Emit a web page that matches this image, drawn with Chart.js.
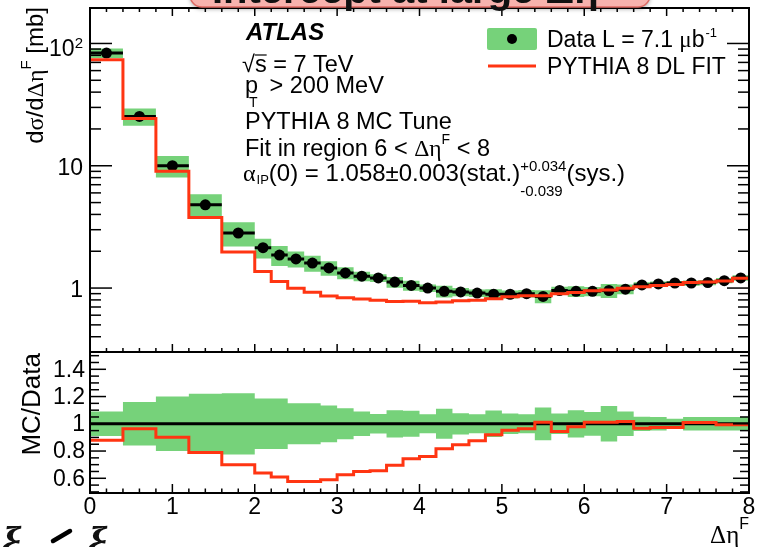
<!DOCTYPE html>
<html>
<head>
<meta charset="utf-8">
<script src="https://cdn.jsdelivr.net/npm/chart.js@4.4.0/dist/chart.umd.min.js"></script>
<style>
body { margin: 0; background: #fff; }
#wrap { position: relative; width: 762px; height: 547px; overflow: hidden; }
canvas { position: absolute; left: 0; top: 0; }
</style>
</head>
<body>
<div id="wrap">
  <canvas id="spectrumChart" width="762" height="547"></canvas>
  <canvas id="ratioChart" width="762" height="547"></canvas>
</div>
<script>
// bin edges in delta eta F (0.4 wide up to 2, then 0.2)
const binEdges = [0, 0.4, 0.8, 1.2, 1.6, 2.0, 2.2, 2.4, 2.6, 2.8, 3.0, 3.2, 3.4, 3.6, 3.8, 4.0,
  4.2, 4.4, 4.6, 4.8, 5.0, 5.2, 5.4, 5.6, 5.8, 6.0, 6.2, 6.4, 6.6, 6.8, 7.0, 7.2, 7.4, 7.6, 7.8, 8.0];

// data, dsigma/d deta [mb]
const dataValues = [83.5, 25.3, 10.0, 4.79, 2.82, 2.14, 1.86, 1.73, 1.60, 1.46, 1.33, 1.25, 1.21,
  1.12, 1.05, 1.00, 0.94, 0.93, 0.91, 0.89, 0.89, 0.90, 0.855, 0.955, 0.94, 0.94, 0.955, 0.98,
  1.06, 1.08, 1.10, 1.10, 1.11, 1.15, 1.21];

// total relative uncertainty (green band)
const relErr = [0.09, 0.16, 0.20, 0.22, 0.225, 0.185, 0.185, 0.15, 0.15, 0.135, 0.114, 0.09, 0.072,
  0.10, 0.095, 0.07, 0.11, 0.078, 0.07, 0.097, 0.075, 0.07, 0.12, 0.075, 0.10, 0.087, 0.13, 0.09,
  0.052, 0.05, 0.037, 0.05, 0.05, 0.05, 0.05];

// PYTHIA 8 DL fit
const mcValues = [73.5, 24.4, 9.02, 3.78, 1.97, 1.365, 1.133, 0.998, 0.923, 0.861, 0.833, 0.813, 0.794,
  0.778, 0.781, 0.76, 0.768, 0.787, 0.796, 0.819, 0.848, 0.867, 0.865, 0.90, 0.919, 0.951, 0.966,
  0.997, 1.026, 1.051, 1.07, 1.111, 1.121, 1.142, 1.20];

// MC / Data
const ratioValues = [0.88, 0.963, 0.902, 0.79, 0.70, 0.638, 0.609, 0.577, 0.577, 0.59, 0.626, 0.65,
  0.656, 0.695, 0.744, 0.76, 0.817, 0.846, 0.875, 0.92, 0.953, 0.963, 1.012, 0.944, 0.978, 1.012,
  1.012, 1.017, 0.968, 0.973, 0.973, 1.01, 1.01, 0.993, 0.993];

const xTickLabels = [0, 1, 2, 3, 4, 5, 6, 7, 8];
const logTickLabels = [1, 10, 100];
const ratioTickLabels = [0.6, 0.8, 1, 1.2, 1.4];

const GREEN = 'rgb(118,210,122)';
const RED = '#ff3512';
const SANS = '"Liberation Sans", Arial, sans-serif';
const SERIF = '"Liberation Serif", "DejaVu Serif", serif';
const TXT = 23.5;

function stepPoints(vals) {
  const pts = vals.map((v, i) => ({ x: binEdges[i], y: v }));
  pts.push({ x: binEdges[vals.length], y: vals[vals.length - 1] });
  return pts;
}

function barPoints(vals) {
  const pts = [];
  vals.forEach((v, i) => {
    pts.push({ x: binEdges[i], y: v }, { x: binEdges[i + 1], y: v }, { x: binEdges[i + 1], y: null });
  });
  return pts;
}

function line(ctx, x1, y1, x2, y2) {
  ctx.beginPath(); ctx.moveTo(x1, y1); ctx.lineTo(x2, y2); ctx.stroke();
}

// draw a list of [text, size, family, dy] pieces
function rich(ctx, parts, x, y, align) {
  let w = 0;
  parts.forEach(p => { ctx.font = p[1] + 'px ' + p[2]; w += ctx.measureText(p[0]).width; });
  let cx = align === 'right' ? x - w : x;
  ctx.textAlign = 'left';
  parts.forEach(p => {
    ctx.font = p[1] + 'px ' + p[2];
    ctx.fillText(p[0], cx, y + (p[3] || 0));
    cx += ctx.measureText(p[0]).width;
  });
  return cx;
}

function xTicks(ctx, x, a, top, bottom, major, minor) {
  for (let k = 0; k <= 40; k++) {
    const px = x.getPixelForValue(k * 0.2);
    const len = k % 5 === 0 ? major : minor;
    if (top) line(ctx, px, a.top, px, a.top + len);
    if (bottom) line(ctx, px, a.bottom, px, a.bottom - len);
  }
}

const spectrumDecor = {
  id: 'spectrumDecor',
  afterDraw(chart) {
    const { ctx, chartArea: a, scales: { x, y } } = chart;
    ctx.save();
    ctx.strokeStyle = '#000';
    ctx.fillStyle = '#000';
    ctx.lineWidth = 1.5;
    xTicks(ctx, x, a, true, true, 8, 4);
    for (let dec = 0.1; dec < 1000; dec *= 10) {
      for (let m = 1; m <= 9; m++) {
        const v = dec * m;
        const py = y.getPixelForValue(v);
        if (py < a.top || py > a.bottom) continue;
        const len = m === 1 ? 22 : 11;
        line(ctx, a.left, py, a.left + len, py);
        line(ctx, a.right, py, a.right - len, py);
      }
    }
    ctx.lineWidth = 2;
    ctx.strokeRect(a.left, a.top, a.right - a.left, a.bottom - a.top);

    // y tick labels
    ctx.textBaseline = 'alphabetic';
    logTickLabels.forEach(v => {
      const py = y.getPixelForValue(v);
      if (v === 100) {
        rich(ctx, [['10', 23, SANS, 0], ['2', 15, SANS, -8]], 83, py + 13, 'right');
      } else {
        rich(ctx, [[String(v), 23, SANS, 0]], 83, py + 9, 'right');
      }
    });

    // y title
    ctx.save();
    ctx.translate(43, 7);
    ctx.rotate(-Math.PI / 2);
    rich(ctx, [['d', 24, SANS], ['σ', 24, SERIF], ['/d', 24, SANS], ['Δη', 24, SERIF],
      ['F', 15, SANS, -12], [' [mb]', 24, SANS]], 0, 0, 'right');
    ctx.restore();

    // text block
    ctx.font = 'italic bold 24px ' + SANS;
    ctx.fillText('ATLAS', 246, 40);
    let cx = rich(ctx, [['√', TXT, SANS]], 242, 72);
    const sx = rich(ctx, [['s', TXT, SANS]], cx, 72);
    ctx.lineWidth = 1.2;
    line(ctx, cx, 55, sx, 55);
    rich(ctx, [[' = 7 TeV', TXT, SANS]], sx, 72);
    rich(ctx, [['p', TXT, SANS]], 245, 93);
    rich(ctx, [['T', 14, SANS]], 249, 107);
    rich(ctx, [[' > 200 MeV', TXT, SANS]], 263, 93);
    rich(ctx, [['PYTHIA 8 MC Tune', TXT, SANS]], 245, 129);
    rich(ctx, [['Fit in region 6 < ', TXT, SANS], ['Δη', TXT, SERIF], ['F', 14, SANS, -12],
      [' < 8', TXT, SANS]], 245, 156);
    cx = rich(ctx, [['α', 24, SERIF]], 243, 181);
    cx = rich(ctx, [['IP', 13, SANS, 3]], cx + 1, 181);
    cx = rich(ctx, [['(0) = 1.058±0.003(stat.)', 24, SANS]], cx, 181);
    const c1 = rich(ctx, [['+0.034', 15, SANS]], cx, 171);
    const c2 = rich(ctx, [['-0.039', 15, SANS]], cx, 196);
    rich(ctx, [['(sys.)', 24, SANS]], Math.max(c1, c2), 181);

    // legend
    ctx.fillStyle = GREEN;
    ctx.beginPath(); ctx.roundRect(487, 28, 50, 22, 2); ctx.fill();
    ctx.fillStyle = '#000';
    ctx.beginPath(); ctx.arc(512, 39, 5, 0, Math.PI * 2); ctx.fill();
    ctx.strokeStyle = RED; ctx.lineWidth = 3;
    line(ctx, 488, 66, 536, 66);
    cx = rich(ctx, [['Data L = 7.1 ', 23, SANS], ['μ', 23, SERIF], ['b', 23, SANS]], 547, 47);
    rich(ctx, [['-1', 13, SANS]], cx + 1, 37);
    rich(ctx, [['PYTHIA 8 DL FIT', 23, SANS]], 547, 74);
    ctx.restore();
  }
};

const ratioDecor = {
  id: 'ratioDecor',
  afterDraw(chart) {
    const { ctx, chartArea: a, scales: { x, y } } = chart;
    ctx.save();
    ctx.strokeStyle = '#000';
    ctx.fillStyle = '#000';
    ctx.lineWidth = 1.5;
    xTicks(ctx, x, a, false, true, 9, 4.5);
    for (let k = 10; k <= 30; k++) {
      const v = k * 0.05;
      const py = y.getPixelForValue(v);
      if (py < a.top || py > a.bottom) continue;
      const len = k % 4 === 0 ? 16 : 9;
      line(ctx, a.left, py, a.left + len, py);
      line(ctx, a.right, py, a.right - len, py);
    }
    ctx.lineWidth = 2;
    ctx.strokeRect(a.left, a.top, a.right - a.left, a.bottom - a.top);

    ctx.textBaseline = 'middle';
    ctx.textAlign = 'right';
    ctx.font = '23px ' + SANS;
    ratioTickLabels.forEach(v => ctx.fillText(String(v), 85, y.getPixelForValue(v) + 1));
    ctx.textAlign = 'center';
    ctx.textBaseline = 'alphabetic';
    xTickLabels.forEach(v => ctx.fillText(String(v), x.getPixelForValue(v), 514));

    // axis titles
    rich(ctx, [['Δη', 25, SERIF], ['F', 16, SANS, -14]], 749, 543, 'right');
    ctx.save();
    ctx.translate(40, 353);
    ctx.rotate(-Math.PI / 2);
    rich(ctx, [['MC/Data', 26, SANS]], 0, 0, 'right');
    ctx.restore();

    // banner cut at the top of the picture
    ctx.save();
    ctx.shadowColor = 'rgba(0,0,0,0.35)';
    ctx.shadowBlur = 4;
    ctx.shadowOffsetY = 2;
    ctx.fillStyle = '#f7b2ad';
    ctx.beginPath(); ctx.roundRect(190, -30, 460, 37, 12); ctx.fill();
    ctx.restore();
    ctx.strokeStyle = '#de6b64'; ctx.lineWidth = 1.5;
    ctx.beginPath(); ctx.roundRect(190, -30, 460, 37, 12); ctx.stroke();
    ctx.fillStyle = '#111';
    rich(ctx, [['Intercept at large Δη', 'bold 40', SANS]], 212, 3);

    // glyphs cut at the bottom edge
    ctx.font = 'bold italic 48px ' + SERIF;
    ctx.fillText('ξ', 0, 560);
    ctx.fillText('ξ', 86, 560);
    ctx.lineWidth = 4.5; ctx.lineCap = 'round'; ctx.strokeStyle = '#000';
    line(ctx, 53, 541, 70, 531);
    ctx.restore();
  }
};

const lineDefaults = { pointRadius: 0, tension: 0, spanGaps: false };

new Chart(document.getElementById('spectrumChart'), {
  type: 'line',
  data: {
    datasets: [
      { ...lineDefaults, data: stepPoints(dataValues.map((v, i) => v * (1 - relErr[i]))), stepped: 'before',
        borderWidth: 0, borderColor: 'rgba(0,0,0,0)', fill: false, order: 5 },
      { ...lineDefaults, data: stepPoints(dataValues.map((v, i) => v * (1 + relErr[i]))), stepped: 'before',
        borderWidth: 0, borderColor: 'rgba(0,0,0,0)', backgroundColor: GREEN, fill: '-1', order: 4 },
      { ...lineDefaults, data: barPoints(dataValues), borderColor: '#000', borderWidth: 3, order: 3 },
      { type: 'scatter', data: dataValues.map((v, i) => ({ x: (binEdges[i] + binEdges[i + 1]) / 2, y: v })),
        pointRadius: 5.5, pointBackgroundColor: '#000', pointBorderWidth: 0, showLine: false, order: 2 },
      { ...lineDefaults, data: stepPoints(mcValues), stepped: 'before', borderColor: RED, borderWidth: 3, order: 1 }
    ]
  },
  options: {
    responsive: false,
    animation: false,
    layout: { padding: { left: 90, right: 13, top: 8, bottom: 195 } },
    plugins: { legend: { display: false }, tooltip: { enabled: false } },
    scales: {
      x: { type: 'linear', min: 0, max: 8, display: false },
      y: { type: 'logarithmic', min: 0.303, max: 195, display: false }
    }
  },
  plugins: [spectrumDecor]
});

new Chart(document.getElementById('ratioChart'), {
  type: 'line',
  data: {
    datasets: [
      { ...lineDefaults, data: stepPoints(relErr.map(e => 1 - e)), stepped: 'before',
        borderWidth: 0, borderColor: 'rgba(0,0,0,0)', fill: false, order: 5 },
      { ...lineDefaults, data: stepPoints(relErr.map(e => 1 + e)), stepped: 'before',
        borderWidth: 0, borderColor: 'rgba(0,0,0,0)', backgroundColor: GREEN, fill: '-1', order: 4 },
      { ...lineDefaults, data: [{ x: 0, y: 1 }, { x: 8, y: 1 }], borderColor: '#000', borderWidth: 3, order: 2 },
      { ...lineDefaults, data: stepPoints(ratioValues), stepped: 'before', borderColor: RED, borderWidth: 3, order: 1 }
    ]
  },
  options: {
    responsive: false,
    animation: false,
    layout: { padding: { left: 90, right: 13, top: 352, bottom: 54 } },
    plugins: { legend: { display: false }, tooltip: { enabled: false } },
    scales: {
      x: { type: 'linear', min: 0, max: 8, display: false },
      y: { type: 'linear', min: 0.492, max: 1.527, display: false }
    }
  },
  plugins: [ratioDecor]
});
</script>
</body>
</html>
